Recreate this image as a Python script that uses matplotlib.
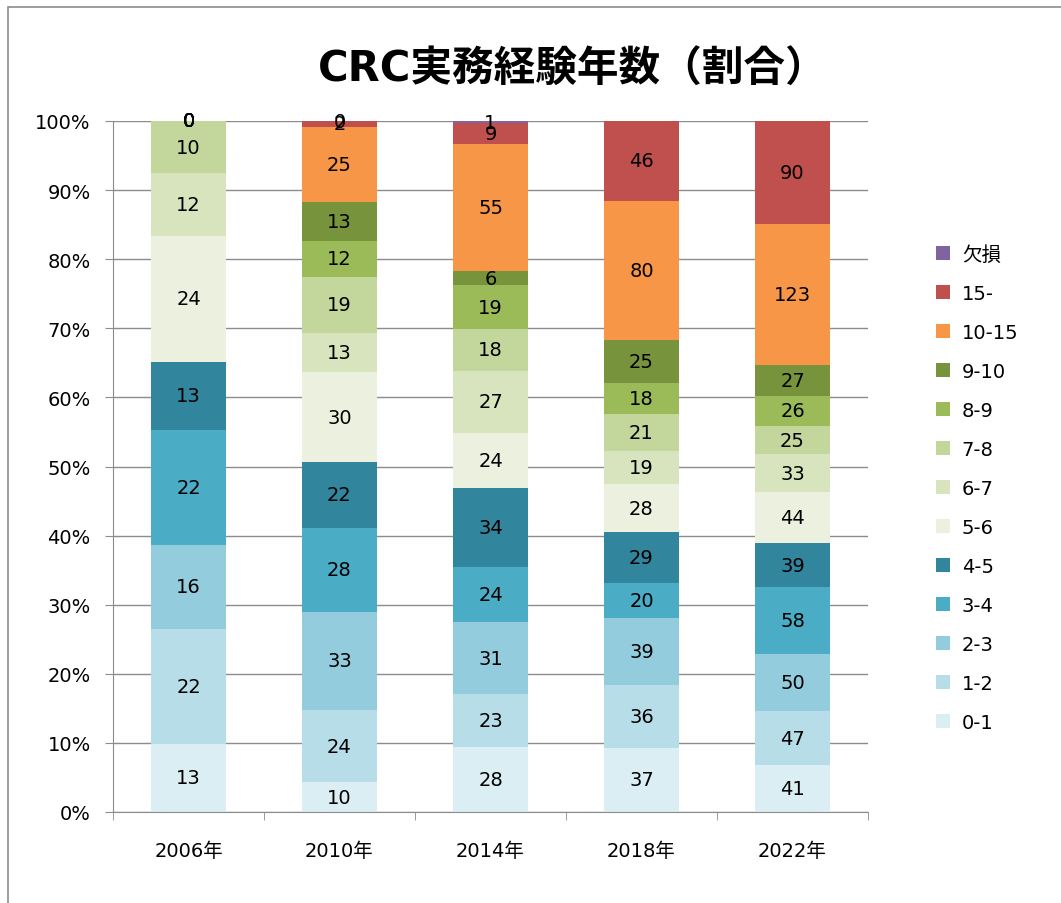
import numpy as np
import matplotlib.pyplot as plt
from matplotlib.patches import Rectangle

plt.rcParams['font.family'] = ['DejaVu Sans', 'Noto Sans CJK JP']

# データ（人数）
years = ['2006年', '2010年', '2014年', '2018年', '2022年']
categories = ['0-1', '1-2', '2-3', '3-4', '4-5', '5-6', '6-7', '7-8', '8-9', '9-10', '10-15', '15-', '欠損']
v_0_1 = [13, 10, 28, 37, 41]
v_1_2 = [22, 24, 23, 36, 47]
v_2_3 = [16, 33, 31, 39, 50]
v_3_4 = [22, 28, 24, 20, 58]
v_4_5 = [13, 22, 34, 29, 39]
v_5_6 = [24, 30, 24, 28, 44]
v_6_7 = [12, 13, 27, 19, 33]
v_7_8 = [10, 19, 18, 21, 25]
v_8_9 = [0, 12, 19, 18, 26]
v_9_10 = [0, 13, 6, 25, 27]
v_10_15 = [0, 25, 55, 80, 123]
v_15 = [0, 2, 9, 46, 90]
v_missing = [0, 0, 1, None, None]

colors = ['#DBEEF4', '#B7DEE8', '#93CDDD', '#4BACC6', '#31859C', '#EBF1DE',
          '#D7E4BD', '#C3D69B', '#9BBB59', '#77933C', '#F79646', '#C0504D', '#8064A2']

series = [v_0_1, v_1_2, v_2_3, v_3_4, v_4_5, v_5_6, v_6_7, v_7_8,
          v_8_9, v_9_10, v_10_15, v_15, v_missing]
vals = np.array([[np.nan if v is None else v for v in s] for s in series], dtype=float)
totals = np.nansum(vals, axis=0)
pct = np.nan_to_num(vals) / totals * 100

fig = plt.figure(figsize=(10.61, 9.04), dpi=100)
fig.patches.append(Rectangle((0.0075, -0.01), 1.1, 1.001, transform=fig.transFigure,
                             fill=False, edgecolor='#8c8c8c', linewidth=1.2))
ax = fig.add_axes([113 / 1061, 1 - 813 / 904, 755 / 1061, 691 / 904])

x = np.arange(len(years))
bottom = np.zeros(len(years))
handles = []
for i, cat in enumerate(categories):
    h = ax.bar(x, pct[i], 0.5, bottom=bottom, color=colors[i], label=cat, zorder=2)
    handles.append(h)
    for j in range(len(years)):
        if not np.isnan(vals[i, j]):
            ax.text(x[j], bottom[j] + pct[i, j] / 2, '%d' % vals[i, j],
                    ha='center', va='center', fontsize=14, color='black', zorder=3)
    bottom += pct[i]

ax.set_xlim(-0.5, 4.5)
ax.set_ylim(0, 100)
ax.set_yticks(np.arange(0, 101, 10))
ax.set_yticklabels(['%d%%' % t for t in range(0, 101, 10)], fontsize=14)
ax.set_xticks(x)
ax.set_xticklabels(years, fontsize=14)
ax.set_xticks(np.arange(-0.5, 5, 1), minor=True)
ax.tick_params(axis='x', which='major', length=0, pad=21)
ax.tick_params(axis='x', which='minor', length=6, color='#8c8c8c')
ax.tick_params(axis='y', length=6, color='#8c8c8c', pad=10)
ax.grid(axis='y', color='#8c8c8c', linewidth=1, zorder=0)
for s in ['top', 'right']:
    ax.spines[s].set_visible(False)
for s in ['left', 'bottom']:
    ax.spines[s].set_color('#8c8c8c')

fig.text(0.54, 1 - 70 / 904, 'CRC実務経験年数（割合）', ha='center', va='center',
         fontsize=30, fontweight='bold', family=['DejaVu Sans', 'Noto Sans CJK JP'])

leg = fig.legend(handles[::-1], categories[::-1], loc='upper left',
                 bbox_to_anchor=(918 / 1061, 1 - 228 / 904), frameon=False,
                 fontsize=14, handlelength=0.75, handleheight=0.75,
                 labelspacing=1.03, handletextpad=0.6)

fig.savefig('out.png', dpi=100)
